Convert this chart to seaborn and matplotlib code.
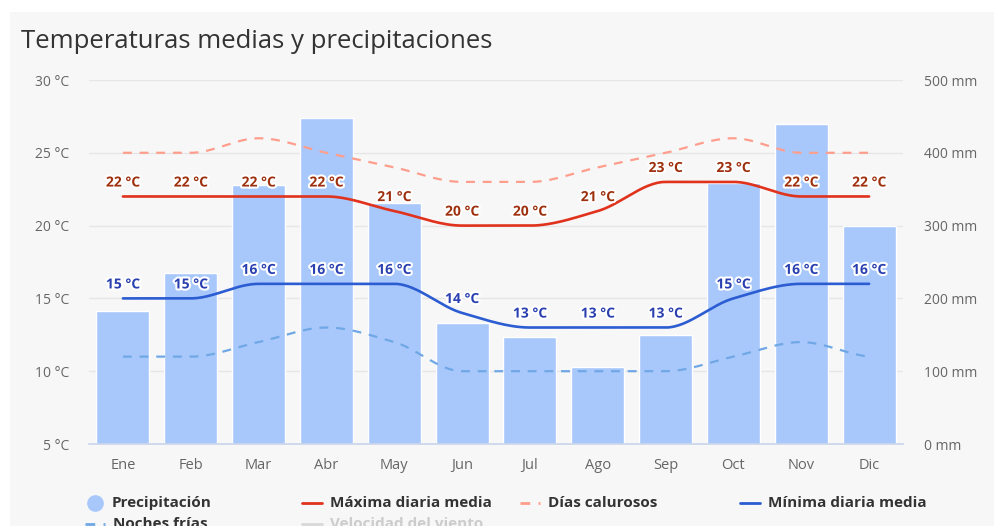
import numpy as np
import pandas as pd
import seaborn as sns
import matplotlib.pyplot as plt
import matplotlib.patheffects as pe
from matplotlib.lines import Line2D
from matplotlib.patches import Rectangle

# data
months = ["Ene", "Feb", "Mar", "Abr", "May", "Jun", "Jul", "Ago", "Sep", "Oct", "Nov", "Dic"]
precip_mm = [183, 235, 356, 448, 331, 166, 147, 106, 150, 358, 440, 300]
max_temp = [22, 22, 22, 22, 21, 20, 20, 21, 23, 23, 22, 22]
min_temp = [15, 15, 16, 16, 16, 14, 13, 13, 13, 15, 16, 16]
hot_days = [25, 25, 26, 25, 24, 23, 23, 24, 25, 26, 25, 25]
cold_nights = [11, 11, 12, 13, 12, 10, 10, 10, 10, 11, 12, 11]

temp_ticks = [5, 10, 15, 20, 25, 30]
mm_ticks = [0, 100, 200, 300, 400, 500]

C_BAR = "#a8c8fb"
C_MAX = "#e0321c"
C_HOT = "#ff9e8c"
C_MIN = "#2c5cd2"
C_COLD = "#70a8e6"
C_MAX_TXT = "#9e300e"
C_MIN_TXT = "#2a40b0"

sns.set_theme(style="white")
plt.rcParams['font.family'] = ['Open Sans', 'DejaVu Sans']

W, H = 995, 526


def px(x, y):
    return x / W, 1 - y / H


def smooth(vals, n=30):
    # monotone cubic (Fritsch-Carlson) so flat runs stay flat
    y = np.asarray(vals, float)
    x = np.arange(len(y), dtype=float)
    d = np.diff(y)
    m = np.zeros_like(y)
    m[0], m[-1] = d[0], d[-1]
    for i in range(1, len(y) - 1):
        if d[i - 1] * d[i] > 0:
            m[i] = 2 / (1 / d[i - 1] + 1 / d[i])
    m[0] = 0 if d[0] == 0 else m[0] * 0.5
    m[-1] = 0 if d[-1] == 0 else m[-1] * 0.5
    xs, ys = [], []
    for i in range(len(y) - 1):
        t = np.linspace(0, 1, n, endpoint=False)
        h00 = 2 * t**3 - 3 * t**2 + 1
        h10 = t**3 - 2 * t**2 + t
        h01 = -2 * t**3 + 3 * t**2
        h11 = t**3 - t**2
        xs.append(x[i] + t)
        ys.append(h00 * y[i] + h10 * m[i] + h01 * y[i + 1] + h11 * m[i + 1])
    xs.append([x[-1]])
    ys.append([y[-1]])
    return np.concatenate(xs), np.concatenate(ys)


fig = plt.figure(figsize=(W / 100, H / 100), dpi=100)
fig.patch.set_facecolor("white")
fig.add_artist(Rectangle(px(10, H), 1, 1 - 12 / H, transform=fig.transFigure,
                         facecolor="#f7f7f7", edgecolor="none", zorder=0))

l, b = px(89, 444)
r, t = px(903, 80)
ax2 = fig.add_axes([l, b, r - l, t - b])   # precipitation (right axis), drawn below
ax = ax2.twinx()                             # temperature (left axis)
ax.yaxis.tick_left()
ax2.yaxis.tick_right()
ax.set_zorder(ax2.get_zorder() + 1)
ax.patch.set_visible(False)
ax2.patch.set_visible(False)

df = pd.DataFrame({"mes": months, "mm": precip_mm})
sns.barplot(data=df, x="mes", y="mm", ax=ax2, color=C_BAR, saturation=1, width=0.78, zorder=2)
ax2.set_ylim(0, 500)
ax2.set_yticks(mm_ticks)
ax2.set_yticklabels([f"{v} mm" for v in mm_ticks])
ax2.grid(axis="y", color="#e6e6e6", linewidth=1, zorder=0)
ax2.set_axisbelow(True)
ax2.set_xlim(-0.5, 11.5)
ax2.set_xlabel("")
ax2.set_ylabel("")

series = [
    (hot_days, C_HOT, (0, (4, 3.5)), 1.6),
    (cold_nights, C_COLD, (0, (4, 3.5)), 1.6),
    (max_temp, C_MAX, "-", 1.9),
    (min_temp, C_MIN, "-", 1.9),
]
for vals, col, ls, lw in series:
    xs, ys = smooth(vals)
    sns.lineplot(x=xs, y=ys, ax=ax, color=col, linestyle=ls, linewidth=lw, sort=False)

halo = [pe.withStroke(linewidth=3, foreground="white")]
for vals, col in [(max_temp, C_MAX_TXT), (min_temp, C_MIN_TXT)]:
    for i, v in enumerate(vals):
        ax.annotate(f"{v} °C", (i, v), xytext=(0, 5), textcoords="offset points",
                    ha="center", va="bottom", fontsize=10, fontweight="bold",
                    color=col, path_effects=halo, zorder=5)

ax.set_ylim(5, 30)
ax.set_yticks(temp_ticks)
ax.set_yticklabels([f"{v} °C" for v in temp_ticks])
ax.set_xlim(-0.5, 11.5)

for a in (ax, ax2):
    for s in a.spines.values():
        s.set_visible(False)
    a.tick_params(length=0, labelsize=10, labelcolor="#666666")
ax.tick_params(axis="y", pad=14)
ax2.tick_params(axis="y", pad=15)
ax2.tick_params(axis="x", pad=10, labelsize=10.5)
ax2.spines["bottom"].set_visible(True)
ax2.spines["bottom"].set_color("#ccd6eb")

fig.text(*px(21, 42), "Temperaturas medias y precipitaciones", fontsize=18.5,
         color="#333333", va="center", ha="left")

# legend, laid out like the original two rows (second row cut by the frame as in the original)
legend_items = [
    ("circle", C_BAR, 95, 503, "Precipitación", "#333333"),
    ("-", C_MAX, 302, 503, "Máxima diaria media", "#333333"),
    ("--", C_HOT, 520, 503, "Días calurosos", "#333333"),
    ("-", C_MIN, 740, 503, "Mínima diaria media", "#333333"),
    ("--", C_COLD, 85, 524, "Noches frías", "#333333"),
    ("-", "#d8d8d8", 302, 524, "Velocidad del viento", "#cccccc"),
]
for kind, col, x0, y0, label, tcol in legend_items:
    if kind == "circle":
        fig.add_artist(Line2D([px(x0, y0)[0]], [px(x0, y0)[1]], marker="o", markersize=11,
                              color=col, transform=fig.transFigure))
        tx = x0 + 17
    else:
        ls = (0, (3.5, 3)) if kind == "--" else "-"
        fig.add_artist(Line2D([px(x0, y0)[0], px(x0 + 20, y0)[0]], [px(x0, y0)[1]] * 2,
                              color=col, linewidth=2, linestyle=ls, transform=fig.transFigure))
        tx = x0 + 28
    fig.text(*px(tx, y0), label, fontsize=11, fontweight="bold", color=tcol,
             va="center", ha="left")

fig.savefig("out.png", dpi=100)
